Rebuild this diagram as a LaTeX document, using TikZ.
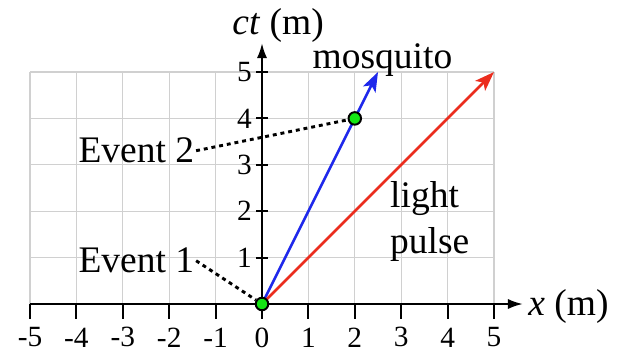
\documentclass[tikz,border=0pt]{standalone}
\usepackage{fontspec}
\setmainfont{Liberation Serif}
\usetikzlibrary{arrows.meta}
\definecolor{gridgray}{RGB}{208,208,208}
\definecolor{mosblue}{RGB}{30,40,235}
\definecolor{pulsered}{RGB}{235,45,30}
\definecolor{evgreen}{RGB}{20,230,20}
\begin{document}
\begin{tikzpicture}[x=1cm,y=1cm,
  lbl/.style={font=\fontsize{23}{28}\selectfont,inner sep=1pt},
  tcklbl/.style={font=\fontsize{18}{20}\selectfont,inner sep=1pt},
  axis/.style={line width=1.2pt,-{Latex[length=0.32cm,width=0.22cm]}},
  world/.style={line width=1.6pt,-{Stealth[length=0.42cm,width=0.3cm,inset=0.1cm]}},
  evdot/.style={circle,draw=black,fill=evgreen,line width=1.2pt,minimum size=0.27cm,inner sep=0pt},
  lead/.style={line width=1.8pt,dash pattern=on 2.4pt off 2.4pt}]
\useasboundingbox (-5.647,-1.034) rectangle (7.759,6.552);
\def\tx{0.32}
\def\ty{0.12}
\draw[gridgray,line width=0.7pt] (-5,0) grid (5,5);
% axes
\coordinate (xend) at (5.62,0);
\coordinate (yend) at (0,5.62);
\draw[axis] (-5,0) -- (xend);
\draw[axis] (0,0) -- (yend);
\node[lbl,anchor=base west] (xlab) at (5.70,-0.24) {\textit{x} (m)};
\node[lbl,anchor=base west] (ylab) at (-0.68,5.80) {\textit{ct} (m)};
\foreach \i in {-5,...,5} {
	\draw[line width=1.2pt] (\i,0) -- (\i,-\tx);
	\node[tcklbl] (xt\i) at (\i,-0.72) {\i};
}
\foreach \j in {1,...,5} {
	\draw[line width=1.2pt] (-\ty,\j) -- (\ty,\j);
	\node[tcklbl,anchor=east] (yt\j) at (-0.18,\j) {\j};
}
% world lines
\coordinate (mtip) at (2.5,5);
\coordinate (ltip) at (5,5);
\draw[world,mosblue] (0,0) -- (mtip);
\draw[world,pulsered] (0,0) -- (ltip);
\node[lbl,anchor=base west] (mos) at (1.05,5.08) {mosquito};
\node[lbl,align=left,anchor=north west] (lp) at (2.72,2.68) {light\\pulse};
% events
\node[evdot] (e1) at (0,0) {};
\node[evdot] (e2) at (2,4) {};
\node[lbl,anchor=base east] (ev1) at (-1.42,0.67) {Event 1};
\node[lbl,anchor=base east] (ev2) at (-1.42,3.04) {Event 2};
\draw[lead] (ev1.east) -- (e1);
\draw[lead] (ev2.east) -- (e2);
\end{tikzpicture}
\end{document}
